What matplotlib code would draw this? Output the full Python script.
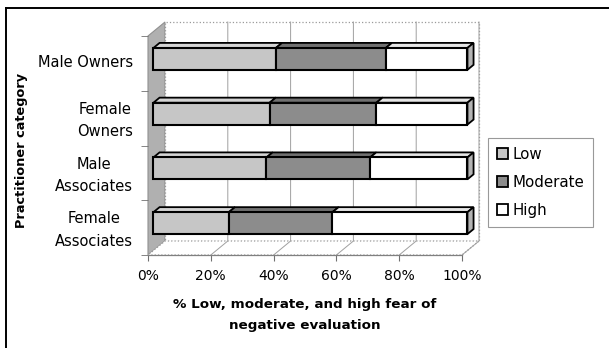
import matplotlib
matplotlib.use("Agg")
import matplotlib.pyplot as plt
from matplotlib.patches import Polygon, Patch
from matplotlib.lines import Line2D

plt.rcParams['font.family'] = ['DejaVu Sans']

categories = ["Female\nAssociates", "Male\nAssociates", "Female\nOwners", "Male Owners"]
low = [24, 36, 37, 39]
moderate = [33, 33, 34, 35]
high = [43, 31, 29, 26]
series_names = ["Low", "Moderate", "High"]
ticks = [0, 20, 40, 60, 80, 100]

face_cols = ["#c6c6c6", "#8c8c8c", "#ffffff"]
top_cols = ["#d4d4d4", "#707070", "#e6e6e6"]
side_col = "#b4b4b4"

W, H = 609, 348
fig = plt.figure(figsize=(W / 100, H / 100), dpi=100)
ax = fig.add_axes([148 / W, (H - 255) / H, 314 / W, 219 / H])
ax.set_xlim(0, 100)
ax.set_ylim(0, 4)

# depth offsets of the pseudo-3D box (data units per unit depth)
DX = 17 * 100 / 314
DY = 14 * 4 / 219


def proj(x, y, z):
    return (x + DX * z, y + DY * z)


def quad(pts, fc, ec, lw, ls='-', z=1):
    p = Polygon([proj(*q) for q in pts], closed=True, fc=fc, ec=ec, lw=lw,
                ls=ls, clip_on=False, zorder=z, joinstyle='miter')
    ax.add_patch(p)


# walls and floor
quad([(0, 0, 0), (0, 4, 0), (0, 4, 1), (0, 0, 1)], "#b0b0b0", "#909090", 0.8, z=1)
quad([(0, 0, 1), (100, 0, 1), (100, 4, 1), (0, 4, 1)], "white", "#9a9a9a", 0.9, ls=':', z=1)
quad([(0, 0, 0), (100, 0, 0), (100, 0, 1), (0, 0, 1)], "white", "#9a9a9a", 0.9, ls=':', z=1)
for t in ticks[1:]:
    gx = [proj(t, 0, 0)[0], proj(t, 0, 1)[0], proj(t, 4, 1)[0]]
    gy = [proj(t, 0, 0)[1], proj(t, 0, 1)[1], proj(t, 4, 1)[1]]
    ax.plot(gx, gy, color="#a0a0a0", lw=0.7, clip_on=False, zorder=1.5)
ax.plot([0, 100], [0, 0], color="#808080", lw=0.9, clip_on=False, zorder=1.6)

# stacked bars
z0, z1 = 0.32, 0.68
half = 0.2
for i in range(len(categories)):
    vals = [low[i], moderate[i], high[i]]
    yb, yt = i + 0.5 - half, i + 0.5 + half
    left = 0
    for k, v in enumerate(vals):
        right = left + v
        quad([(left, yt, z0), (right, yt, z0), (right, yt, z1), (left, yt, z1)],
             top_cols[k], "black", 1.3, z=3)
        quad([(left, yb, z0), (right, yb, z0), (right, yt, z0), (left, yt, z0)],
             face_cols[k], "black", 1.5, z=4)
        left = right
    quad([(left, yb, z0), (left, yb, z1), (left, yt, z1), (left, yt, z0)],
         side_col, "black", 1.3, z=3)

# axes, ticks and labels
for s in ax.spines.values():
    s.set_visible(False)
ax.set_xticks(ticks)
ax.set_xticklabels([f"{t}%" for t in ticks], fontsize=10)
ax.tick_params(axis='x', length=4, color="#707070", pad=6)
ax.set_yticks([i + 0.55 for i in range(len(categories))])
ax.set_yticklabels(categories, fontsize=10.5, multialignment='center',
                   linespacing=1.6)
ax.set_yticks([0, 1, 2, 3, 4], minor=True)
ax.tick_params(axis='y', which='major', length=0, pad=11)
ax.tick_params(axis='y', which='minor', length=5, color="#707070")
ax.set_xlabel("% Low, moderate, and high fear of\nnegative evaluation",
              fontsize=9.7, fontweight='bold', labelpad=11, linespacing=1.8)
fig.text(22 / W, 1 - 150 / H, "Practitioner category", rotation=90,
         fontsize=9.3, fontweight='bold', ha='center', va='center')

handles = [Patch(fc=face_cols[k], ec="black", lw=1.3) for k in range(3)]
leg = fig.legend(handles, series_names, loc='upper left',
                 bbox_to_anchor=(488 / W, 1 - 138 / H), fontsize=10.8,
                 frameon=True, fancybox=False, handlelength=0.75,
                 handleheight=0.75, handletextpad=0.25, labelspacing=0.85,
                 borderpad=0.6, borderaxespad=0)
leg.get_frame().set_edgecolor("#808080")
leg.get_frame().set_linewidth(0.8)

# outer frame
fig.add_artist(Line2D([6 / W, 1], [1 - 8 / H, 1 - 8 / H], color="black", lw=1.4))
fig.add_artist(Line2D([6 / W, 6 / W], [0, 1 - 8 / H], color="black", lw=1.4))

fig.savefig("out.png", dpi=100)
